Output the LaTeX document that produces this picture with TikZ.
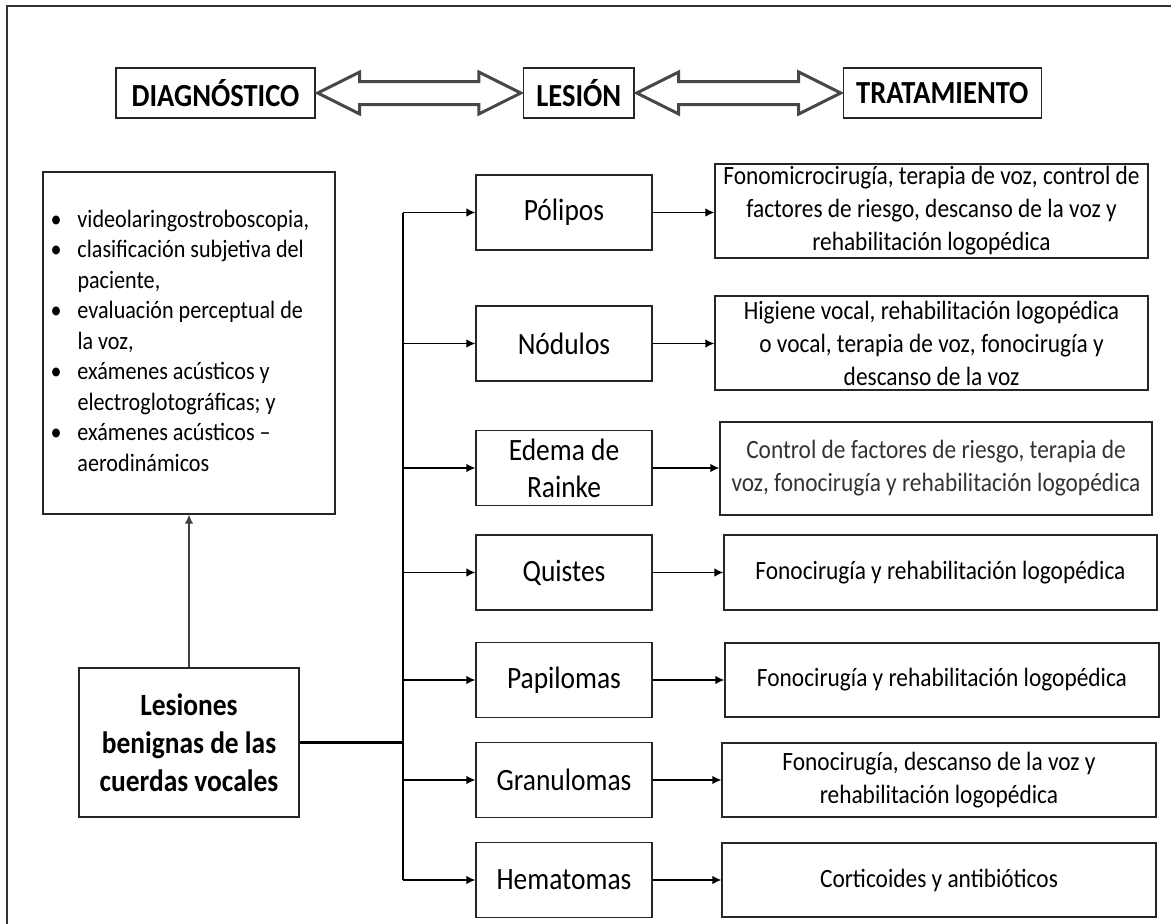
\documentclass[tikz,border=0pt]{standalone}
\usepackage{fontspec}
\setmainfont{Carlito}[FakeStretch=0.885]
\usetikzlibrary{arrows.meta,calc}

\begin{document}
\begin{tikzpicture}[x=1pt,y=-1pt,
  box/.style={draw=black!85, line width=1.3pt, rectangle, inner sep=0pt, align=center, fill=white},
  headbox/.style={box, font=\fontsize{32.2}{36}\selectfont\bfseries, minimum height=50pt},
  lesbox/.style={box, minimum width=176pt, minimum height=75pt, font=\fontsize{31}{37}\selectfont},
  treatbox/.style={box, font=\fontsize{26.4}{33}\selectfont},
  link/.style={line width=1.4pt, -{Latex[length=9pt,width=8.5pt]}},
  trunkline/.style={line width=2pt},
  dblarrow/.style={draw=black!72, line width=3pt, line join=miter, fill=white},
]

\useasboundingbox (0,0) rectangle (1171,924);
\clip (0,0) rectangle (1171,924);
\draw[black!80, line width=1.5pt] (7,6) rectangle (1190,950);

% header row
\node[headbox, minimum width=199pt]   (diag) at (215.5,93)  {DIAGNÓSTICO};
\node[headbox, minimum width=110.5pt] (les)  at (578.75,93) {LESIÓN};
\node[headbox, minimum width=198pt]   (trat) at (942.3,93)  {TRATAMIENTO};

% hollow double arrows between the headers
\foreach \a/\b in {diag/les,les/trat}{
\draw[dblarrow] let \p1=(\a.east), \p2=(\b.west) in
  (\x1+2pt,\y1) -- (\x1+44pt,\y1+21pt) -- (\x1+44pt,\y1+11.5pt) -- (\x2-44pt,\y1+11.5pt)
  -- (\x2-44pt,\y1+21pt) -- (\x2-2pt,\y1) -- (\x2-44pt,\y1-21pt) -- (\x2-44pt,\y1-11.5pt)
  -- (\x1+44pt,\y1-11.5pt) -- (\x1+44pt,\y1-21pt) -- cycle;
}

% diagnostic methods
\node[box, minimum width=292pt, minimum height=342pt] (metodos) at (189,343)
  {\raisebox{-7pt}{\fontsize{25}{30.5}\selectfont
   \begin{tabular}{@{}p{27pt}@{}p{250pt}@{}}
   \textbullet & videolaringostroboscopia,\\
   \textbullet & clasificación subjetiva del\\
               & paciente,\\
   \textbullet & evaluación perceptual de\\
               & la voz,\\
   \textbullet & exámenes acústicos y\\
               & electroglotográficas; y\\
   \textbullet & exámenes acústicos –\\
               & aerodinámicos
   \end{tabular}}};

% root node
\node[box, minimum width=220pt, minimum height=149pt,
      font=\fontsize{31}{38}\selectfont\bfseries] (origen) at (189,742.5)
  {Lesiones\\benignas de las\\cuerdas vocales};

% lesion types
\node[lesbox] (pol) at (564,212.5) {Pólipos};
\node[lesbox] (nod) at (564,343.5) {Nódulos};
\node[lesbox] (ede) at (564,468)   {Edema de\\Rainke};
\node[lesbox] (qui) at (564,572.5) {Quistes};
\node[lesbox] (pap) at (564,680)   {Papilomas};
\node[lesbox] (gra) at (564,780)   {Granulomas};
\node[lesbox] (hem) at (564,880)   {Hematomas};

% treatments
\node[treatbox, minimum width=433pt, minimum height=94pt] (tpol) at (931.5,211)
  {Fonomicrocirugía, terapia de voz, control de\\factores de riesgo, descanso de la voz y\\rehabilitación logopédica};
\node[treatbox, minimum width=433pt, minimum height=94pt] (tnod) at (931.5,343)
  {Higiene vocal, rehabilitación logopédica\\o vocal, terapia de voz, fonocirugía y\\descanso de la voz};
\node[treatbox, minimum width=432pt, minimum height=93pt, text=black!80] (tede) at (936,468.5)
  {Control de factores de riesgo, terapia de\\voz, fonocirugía y rehabilitación logopédica};
\node[treatbox, minimum width=433pt, minimum height=75pt] (tqui) at (940.5,572.5)
  {Fonocirugía y rehabilitación logopédica};
\node[treatbox, minimum width=434pt, minimum height=74pt] (tpap) at (942,680)
  {Fonocirugía y rehabilitación logopédica};
\node[treatbox, minimum width=434pt, minimum height=74pt] (tgra) at (939,780)
  {Fonocirugía, descanso de la voz y\\rehabilitación logopédica};
\node[treatbox, minimum width=434pt, minimum height=74pt] (them) at (939,880)
  {Corticoides y antibióticos};

% root to diagnosis
\draw[link, black!75] (origen.north) -- (metodos.south);

% trunk and branches
\coordinate (ttop) at (403,212.5);
\coordinate (tbot) at (403,880);
\draw[trunkline] (ttop) -- (tbot);
\draw[line width=2.3pt] (origen.east) -- (origen.east -| ttop);
\foreach \n in {pol,nod,ede,qui,pap,gra,hem}{
  \draw[link] (\n.west -| ttop) -- (\n.west);
}
\foreach \n/\t in {pol/tpol,nod/tnod,ede/tede,qui/tqui,pap/tpap,gra/tgra,hem/them}{
  \draw[link] (\n.east) -- (\n.east -| \t.west);
}
\end{tikzpicture}
\end{document}
